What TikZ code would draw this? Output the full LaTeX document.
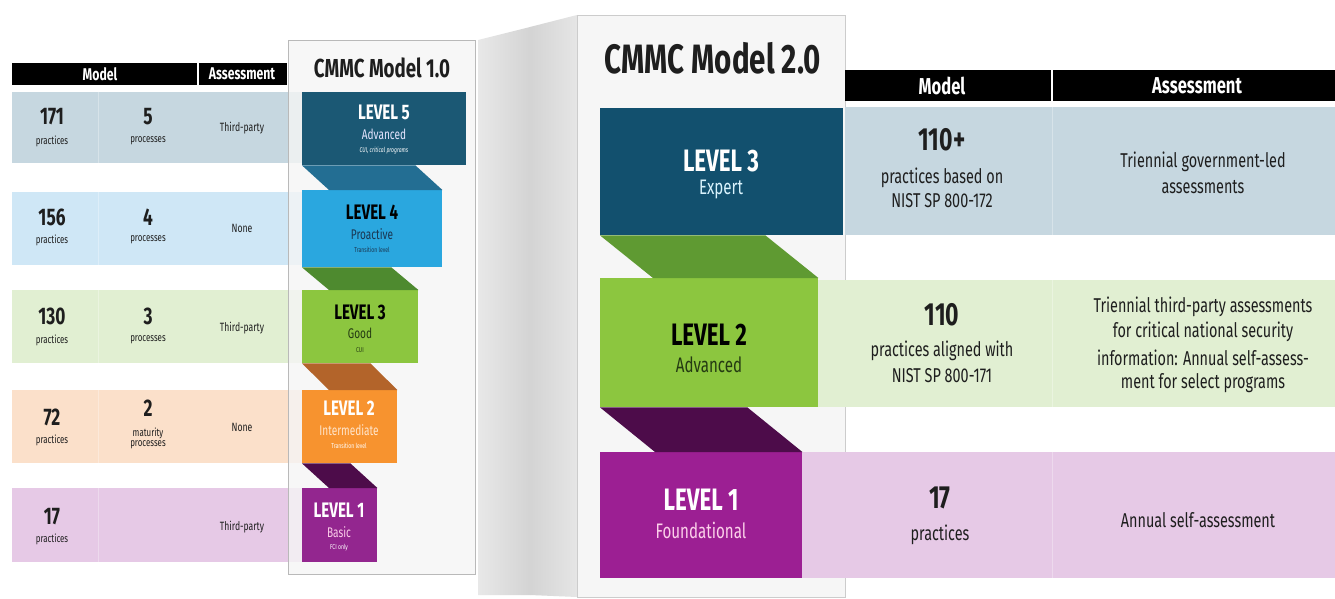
\documentclass[tikz,border=0pt]{standalone}
\usepackage{fontspec}
\newfontfamily\cf[FakeStretch=0.72]{Fira Sans}
\newcommand\myfs[1]{\fontsize{#1}{#1}\selectfont}
\definecolor{rowA}{HTML}{C6D7E0}
\definecolor{rowB}{HTML}{CFE7F6}
\definecolor{rowC}{HTML}{E1EFD2}
\definecolor{rowD}{HTML}{FBE0CA}
\definecolor{rowE}{HTML}{E6C9E6}
\definecolor{lvFive}{HTML}{1B5874}
\definecolor{bdFive}{HTML}{236E93}
\definecolor{lvFour}{HTML}{2AA7DF}
\definecolor{bdFour}{HTML}{4E8A2F}
\definecolor{lvThree}{HTML}{8CC63F}
\definecolor{bdThree}{HTML}{B3642A}
\definecolor{lvTwo}{HTML}{F7932F}
\definecolor{bdTwo}{HTML}{4D0C4A}
\definecolor{lvOne}{HTML}{93268F}
\definecolor{nLthree}{HTML}{12506E}
\definecolor{nBand}{HTML}{5F9A32}
\definecolor{nLone}{HTML}{9C1F93}
\definecolor{txtdark}{HTML}{1E1E1E}
\definecolor{navy}{HTML}{1A3550}
\definecolor{dgreen}{HTML}{243A12}
\tikzset{
  x=1pt, y=-1pt,
  txt/.style={font=\cf, inner sep=0pt, align=center, text=txtdark},
  big/.style={txt, font=\cf\myfs{#1}\bfseries},
  sm/.style={txt, font=\cf\myfs{#1}},
  hdr/.style={big=#1, text=white},
  lvbox/.style={fill=#1, draw=none},
}
\begin{document}
\begin{tikzpicture}
\useasboundingbox (0,0) rectangle (1335,599);
\fill[white] (0,0) rectangle (1335,599);

% ---------- left table ----------
\fill[black] (12,63) rectangle (287,85);
\draw[white, line width=1.2pt] (198,63) -- (198,85);
\node[hdr=17] (lhm) at (100,74) {Model};
\node[hdr=17] (lha) at (242,74) {Assessment};

\foreach \c/\ya/\yb in {rowA/92/163, rowB/192/265, rowC/290/363, rowD/390/463, rowE/488/562}{
  \fill[\c] (12,\ya) rectangle (302,\yb);
  \draw[white!30!\c, line width=1pt] (98,\ya) -- (98,\yb);
}
% row 1
\node[big=24] (a1n) at (52,117) {171};
\node[sm=11] (a1p) at (52,141) {practices};
\node[big=24] (a1m) at (148,117) {5};
\node[sm=11] (a1q) at (148,141) {processes};
\node[sm=12] (a1a) at (242,128) {Third-party};
% row 2
\node[big=24] (a2n) at (52,217) {156};
\node[sm=11] (a2p) at (52,240) {practices};
\node[big=24] (a2m) at (148,217) {4};
\node[sm=11] (a2q) at (148,240) {processes};
\node[sm=12] (a2a) at (242,228) {None};
% row 3
\node[big=24] (a3n) at (52,316) {130};
\node[sm=11] (a3p) at (52,340) {practices};
\node[big=24] (a3m) at (148,316) {3};
\node[sm=11] (a3q) at (148,340) {processes};
\node[sm=12] (a3a) at (242,328) {Third-party};
% row 4
\node[big=24] (a4n) at (52,417) {72};
\node[sm=11] (a4p) at (52,440) {practices};
\node[big=24] (a4m) at (148,408) {2};
\node[sm=11] (a4q) at (148,433) {maturity};
\node[sm=11] (a4r) at (148,445) {processes};
\node[sm=12] (a4a) at (242,427) {None};
% row 5
\node[big=24] (a5n) at (52,517) {17};
\node[sm=11] (a5p) at (52,539) {practices};
\node[sm=12] (a5a) at (242,527) {Third-party};

% ---------- 2.0 side face ----------
\shade[left color=gray!18, right color=gray!34] (478,40) -- (530,27) -- (530,595) -- (478,595) -- cycle;
\shade[left color=gray!34, right color=gray!20] (530,27) -- (577,15) -- (577,597) -- (530,595) -- cycle;

% ---------- 1.0 panel ----------
\fill[gray!8, opacity=0.8] (288,40) rectangle (475,574);
\draw[gray!55, line width=0.8pt] (288,40) rectangle (475,574);
\node[big=26] (t1) at (382,68) {CMMC Model 1.0};

% level boxes 1.0
\node[lvbox=lvFive, minimum width=164, minimum height=73, anchor=north west] (l5) at (302,92) {};
\node[lvbox=lvFour, minimum width=140, minimum height=77, anchor=north west] (l4) at (302,190) {};
\node[lvbox=lvThree, minimum width=116, minimum height=73, anchor=north west] (l3) at (302,290) {};
\node[lvbox=lvTwo, minimum width=95, minimum height=73, anchor=north west] (l2) at (302,390) {};
\node[lvbox=lvOne, minimum width=75, minimum height=74, anchor=north west] (l1) at (302,488) {};
% bands 1.0
\fill[bdFive] (l5.south west) -- ([xshift=-27]l4.north east |- l5.south) -- (l4.north east) -- ([xshift=27]l4.north west) -- cycle;
\fill[bdFour] (l4.south west) -- ([xshift=-27]l3.north east |- l4.south) -- (l3.north east) -- ([xshift=27]l3.north west) -- cycle;
\fill[bdThree] (l3.south west) -- ([xshift=-27]l2.north east |- l3.south) -- (l2.north east) -- ([xshift=27]l2.north west) -- cycle;
\fill[bdTwo] (l2.south west) -- ([xshift=-27]l1.north east |- l2.south) -- (l1.north east) -- ([xshift=27]l1.north west) -- cycle;

% texts 1.0
\node[hdr=21] (l5a) at (384,112) {LEVEL 5};
\node[sm=14, text=blue!10!white] (l5b) at (384,134) {Advanced};
\node[sm=7, text=white, font=\cf\myfs{7}\itshape] (l5c) at (384,151) {CUI, critical programs};
\node[big=21, text=black] (l4a) at (372,212) {LEVEL 4};
\node[sm=14, text=navy] (l4b) at (372,234) {Proactive};
\node[sm=7, text=navy] (l4c) at (372,250) {Transition level};
\node[big=21, text=black] (l3a) at (360,312) {LEVEL 3};
\node[sm=14, text=dgreen] (l3b) at (360,333) {Good};
\node[sm=7, text=dgreen] (l3c) at (360,350) {CUI};
\node[hdr=21] (l2a) at (349,408) {LEVEL 2};
\node[sm=14, text=orange!20!white] (l2b) at (349,430) {Intermediate};
\node[sm=7, text=white] (l2c) at (349,446) {Transition level};
\node[hdr=21] (l1a) at (339,510) {LEVEL 1};
\node[sm=14, text=magenta!20!white] (l1b) at (339,532) {Basic};
\node[sm=7, text=white] (l1c) at (339,548) {FCI only};

% ---------- 2.0 front face ----------
\fill[gray!7] (577,15) rectangle (845,597);
\draw[gray!40, line width=0.8pt] (577,15) rectangle (845,597);
\node[big=41] (t2) at (713,58) {CMMC Model 2.0};

% ---------- right table ----------
\fill[black] (845,70) rectangle (1335,101);
\draw[white, line width=1.2pt] (1052,70) -- (1052,101);
\node[hdr=23] (rhm) at (942,86) {Model};
\node[hdr=23] (rha) at (1197,86) {Assessment};

\fill[rowA] (845,107) rectangle (1335,235);
\fill[rowC] (818,280) rectangle (1335,407);
\fill[rowE] (802,452) rectangle (1335,578);
\foreach \c/\ya/\yb in {rowA/107/235, rowC/280/407, rowE/452/578}{
  \draw[white!30!\c, line width=1pt] (1052,\ya) -- (1052,\yb);
}

% level boxes 2.0
\node[lvbox=nLthree, minimum width=243, minimum height=127, anchor=north west] (m3) at (600,108) {};
\node[lvbox=lvThree, minimum width=218, minimum height=129, anchor=north west] (m2) at (600,278) {};
\node[lvbox=nLone, minimum width=202, minimum height=126, anchor=north west] (m1) at (600,452) {};
\fill[nBand] (m3.south west) -- ([xshift=-53]m2.north east |- m3.south) -- (m2.north east) -- ([xshift=53]m2.north west) -- cycle;
\fill[bdTwo] (m2.south west) -- ([xshift=-55]m1.north east |- m2.south) -- (m1.north east) -- ([xshift=55]m1.north west) -- cycle;

\node[hdr=31] (m3a) at (721,161) {LEVEL 3};
\node[sm=21, text=cyan!15!white] (m3b) at (721,190) {Expert};
\node[big=31, text=black] (m2a) at (709,335) {LEVEL 2};
\node[sm=21, text=dgreen] (m2b) at (709,365) {Advanced};
\node[hdr=31] (m1a) at (701,500) {LEVEL 1};
\node[sm=21, text=magenta!18!white] (m1b) at (701,530) {Foundational};

% right rows text
\node[big=32] (r1n) at (942,140) {110+};
\node[sm=20] (r1p) at (942,178) {practices based on};
\node[sm=20] (r1q) at (942,201) {NIST SP 800-172};
\node[sm=20] (r1a) at (1203,162) {Triennial government-led};
\node[sm=20] (r1b) at (1203,187) {assessments};

\node[big=32] (r2n) at (942,315) {110};
\node[sm=20] (r2p) at (942,351) {practices aligned with};
\node[sm=20] (r2q) at (942,376) {NIST SP 800-171};
\node[sm=20] (r2a) at (1203,307) {Triennial third-party assessments};
\node[sm=20] (r2b) at (1203,332) {for critical national security};
\node[sm=20] (r2c) at (1203,358) {information: Annual self-assess-};
\node[sm=20] (r2d) at (1203,383) {ment for select programs};

\node[big=32] (r3n) at (940,498) {17};
\node[sm=20] (r3p) at (940,535) {practices};
\node[sm=20] (r3a) at (1198,520) {Annual self-assessment};
\end{tikzpicture}
\end{document}
